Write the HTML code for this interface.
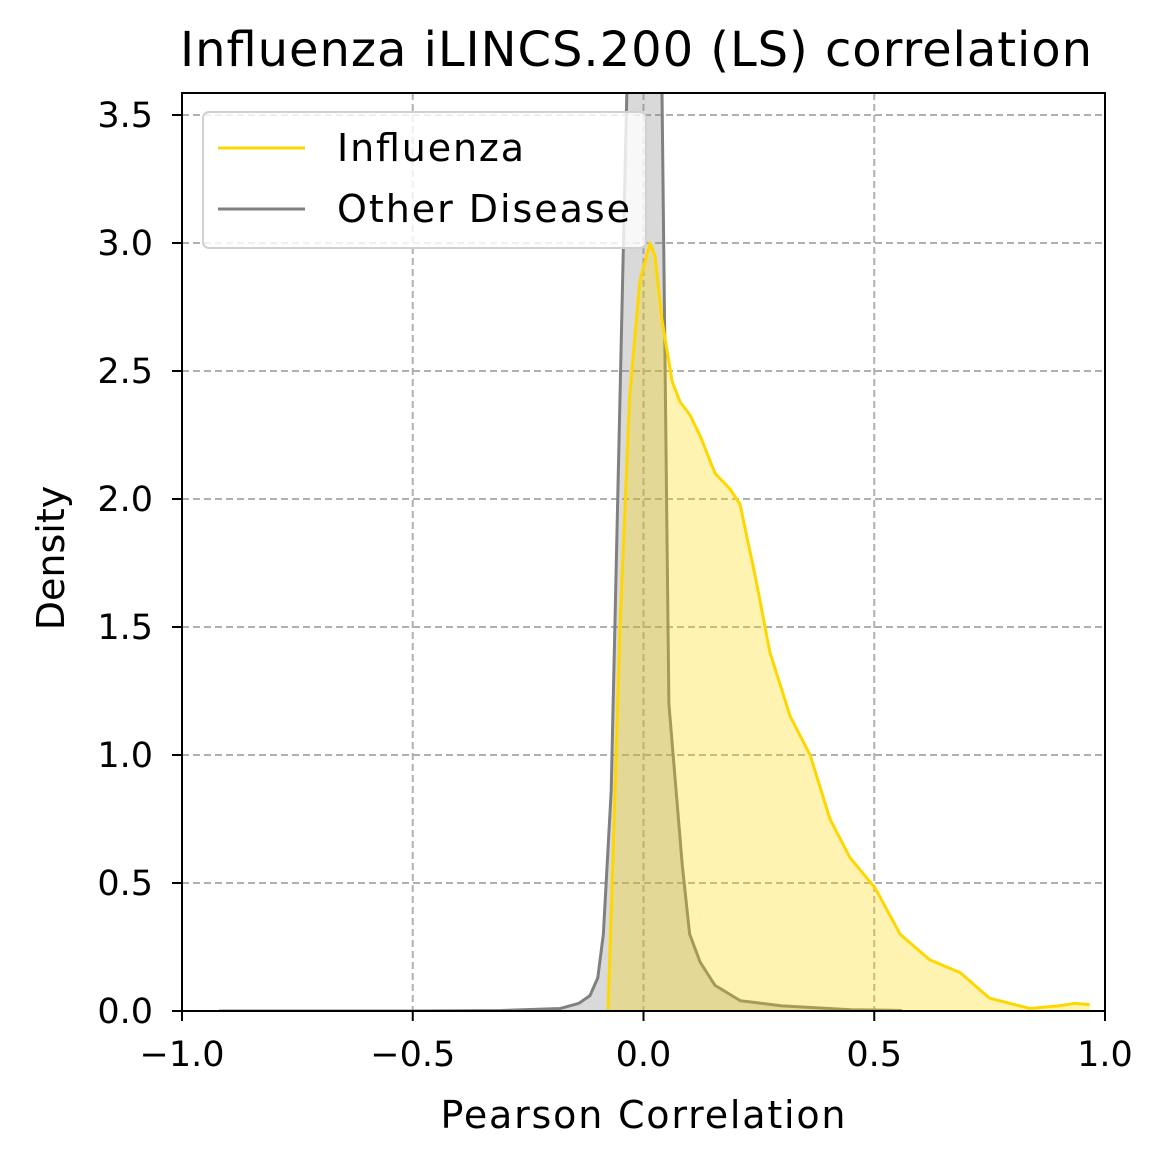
<!DOCTYPE html>
<html><head><meta charset="utf-8"><style>
body{margin:0;background:#fff}
svg text{font-family:"DejaVu Sans","Liberation Sans",sans-serif;fill:#000}
</style></head><body>
<svg id="chart" width="1167" height="1168">
<g id="grid"></g>
<g id="series"></g>
<rect x="182" y="93" width="923" height="918" fill="none" stroke="#000" stroke-width="2"/>
<g id="ticks"></g>
<text x="636" y="66" font-size="48" text-anchor="middle" textLength="912">Influenza iLINCS.200 (LS) correlation</text>
<text x="643" y="1128" font-size="38" text-anchor="middle" textLength="405">Pearson Correlation</text>
<text x="64" y="558" font-size="38" text-anchor="middle" transform="rotate(-90 64 558)">Density</text>
<g>
<rect x="203" y="112" width="443" height="136" rx="6" fill="#fff" fill-opacity="0.8" stroke="#d0d0d0" stroke-width="2"/>
<line x1="218" y1="148" x2="305" y2="148" stroke="#FFD700" stroke-width="3"/>
<text x="337" y="161" font-size="38" textLength="187">Influenza</text>
<line x1="218" y1="209" x2="305" y2="209" stroke="#808080" stroke-width="3"/>
<text x="337" y="222" font-size="38" textLength="293">Other Disease</text>
</g>
</svg>
<script>
const xTicks=[-1.0,-0.5,0.0,0.5,1.0];
const xTickLabels=["\u22121.0","\u22120.5","0.0","0.5","1.0"];
const yTicks=[0,0.5,1,1.5,2,2.5,3,3.5];
const yTickLabels=["0.0","0.5","1.0","1.5","2.0","2.5","3.0","3.5"];
const otherX=[-0.92,-0.5,-0.31,-0.18,-0.14,-0.116,-0.099,-0.087,-0.07,-0.036,-0.01,0.02,0.04,0.055,0.084,0.1,0.123,0.155,0.21,0.3,0.45,0.56];
const otherY=[0,0,0.002,0.01,0.03,0.06,0.13,0.3,0.86,3.6,8.5,8.5,3.6,1.2,0.57,0.3,0.19,0.1,0.04,0.02,0.005,0.002];
const influX=[-0.077,-0.066,-0.051,-0.03,-0.008,0.014,0.025,0.04,0.062,0.079,0.1,0.122,0.155,0.187,0.209,0.242,0.274,0.318,0.361,0.404,0.447,0.502,0.556,0.62,0.686,0.75,0.837,0.9,0.935,0.967];
const influY=[0.0,0.6,1.5,2.4,2.85,3.0,2.95,2.7,2.46,2.38,2.33,2.25,2.1,2.04,1.98,1.7,1.4,1.15,1.0,0.75,0.6,0.48,0.3,0.2,0.15,0.05,0.01,0.02,0.03,0.025];
const X=v=>643.5+v*461.5, Y=v=>1011-v*256;
const NS="http://www.w3.org/2000/svg";
function mk(t,a,p){const e=document.createElementNS(NS,t);for(const k in a)e.setAttribute(k,a[k]);p.appendChild(e);return e;}
const grid=document.getElementById('grid'),ticks=document.getElementById('ticks'),ser=document.getElementById('series');
xTicks.forEach((v,i)=>{
 const g=mk('line',{x1:X(v),x2:X(v),y1:93,y2:1011,stroke:'#b0b0b0','stroke-width':2,'stroke-dasharray':'7,4'},grid);
 
 
 const t=mk('line',{x1:X(v),x2:X(v),y1:1011,y2:1021,stroke:'#000','stroke-width':2},ticks);
 
 
 const l=mk('text',{x:X(v),y:1066,'font-size':35,'text-anchor':'middle'},ticks);l.textContent=xTickLabels[i];
 
 
});
yTicks.forEach((v,i)=>{
 const g=mk('line',{x1:182,x2:1105,y1:Y(v),y2:Y(v),stroke:'#b0b0b0','stroke-width':2,'stroke-dasharray':'7,4'},grid);
 
 
 const t=mk('line',{x1:172,x2:182,y1:Y(v),y2:Y(v),stroke:'#000','stroke-width':2},ticks);
 
 
 const l=mk('text',{x:153,y:Y(v)+12,'font-size':35,'text-anchor':'end'},ticks);l.textContent=yTickLabels[i];
 
 
});
const cp=mk('clipPath',{id:'clip'},document.getElementById('chart'));mk('rect',{x:182,y:93,width:923,height:918},cp);
ser.setAttribute('clip-path','url(#clip)');
function draw(xs,ys,col,fill,name){
 const pts=xs.map((x,i)=>X(x)+','+Y(ys[i])).join(' ');
 const f=mk('polygon',{points:X(xs[0])+','+Y(0)+' '+pts+' '+X(xs[xs.length-1])+','+Y(0),fill:fill,'fill-opacity':0.3},ser);
 
 
 const l=mk('polyline',{points:pts,fill:'none',stroke:col,'stroke-width':3,'stroke-linejoin':'round'},ser);
 
 
}
draw(otherX,otherY,'#808080','#808080','other-disease');
draw(influX,influY,'#FFD700','#FFD700','influenza');
</script>
</body></html>
